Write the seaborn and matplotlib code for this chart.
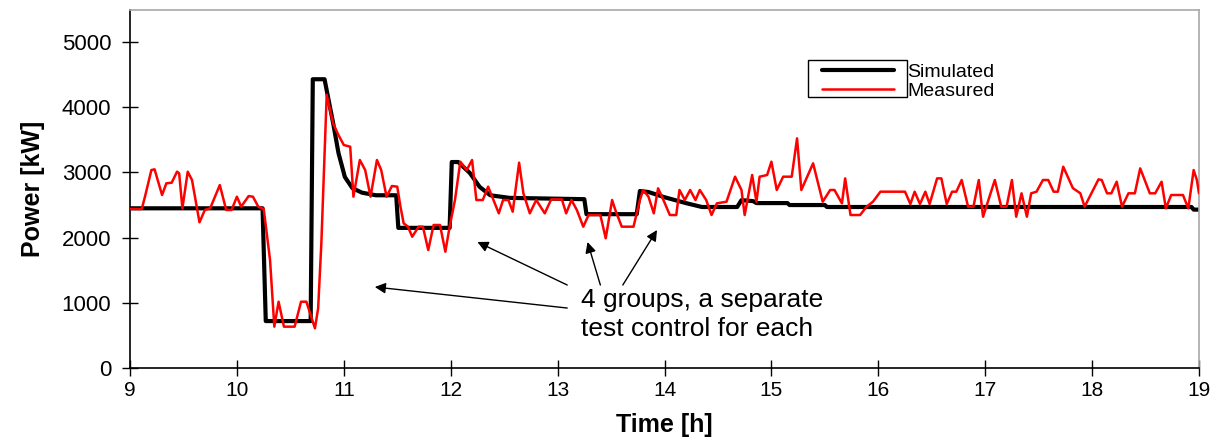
import matplotlib
matplotlib.use("Agg")
import matplotlib.pyplot as plt
from matplotlib.patches import Rectangle
import seaborn as sns
import pandas as pd

# ---------------- data ----------------
sim_time = [9.00, 10.24, 10.27, 10.69, 10.71, 10.82, 10.84, 10.90, 10.95, 11.01,
            11.08, 11.17, 11.30, 11.49, 11.51, 11.99, 12.01, 12.07, 12.18, 12.27,
            12.37, 12.55, 13.25, 13.27, 13.74, 13.77, 13.85, 14.00, 14.20, 14.35,
            14.68, 14.72, 14.83, 14.86, 15.15, 15.17, 15.50, 15.52, 18.93, 18.95, 19.00]
sim_power = [2450, 2450, 720, 720, 4430, 4430, 4260, 3760, 3300, 2930,
             2760, 2690, 2650, 2650, 2150, 2150, 3160, 3160, 2990, 2780,
             2650, 2610, 2590, 2360, 2360, 2715, 2700, 2620, 2530, 2470,
             2470, 2575, 2560, 2530, 2530, 2500, 2500, 2470, 2470, 2430, 2430]

meas_time = [9.00, 9.11, 9.14, 9.20, 9.23, 9.30, 9.34, 9.39, 9.44, 9.46,
             9.49, 9.54, 9.58, 9.65, 9.70, 9.75, 9.84, 9.90, 9.95, 10.00,
             10.04, 10.11, 10.15, 10.20, 10.25, 10.26, 10.31, 10.35, 10.39, 10.44,
             10.54, 10.60, 10.65, 10.73, 10.76, 10.79, 10.84, 10.90, 10.95, 11.00,
             11.06, 11.09, 11.15, 11.20, 11.25, 11.31, 11.35, 11.40, 11.45, 11.50,
             11.53, 11.56, 11.60, 11.64, 11.70, 11.74, 11.79, 11.84, 11.90, 11.95,
             11.99, 12.04, 12.09, 12.15, 12.20, 12.24, 12.30, 12.35, 12.40, 12.45,
             12.49, 12.54, 12.58, 12.64, 12.68, 12.74, 12.80, 12.88, 12.94, 13.04,
             13.08, 13.13, 13.18, 13.24, 13.29, 13.40, 13.45, 13.51, 13.54, 13.60,
             13.71, 13.77, 13.80, 13.85, 13.90, 13.94, 13.99, 14.05, 14.11, 14.14,
             14.19, 14.24, 14.29, 14.33, 14.39, 14.44, 14.49, 14.58, 14.66, 14.72,
             14.75, 14.82, 14.86, 14.89, 14.96, 15.00, 15.05, 15.11, 15.19, 15.24,
             15.28, 15.39, 15.48, 15.55, 15.59, 15.66, 15.69, 15.74, 15.83, 15.89,
             15.95, 16.02, 16.25, 16.30, 16.34, 16.39, 16.44, 16.48, 16.55, 16.59,
             16.64, 16.69, 16.73, 16.78, 16.84, 16.89, 16.94, 16.98, 17.09, 17.15,
             17.20, 17.25, 17.29, 17.34, 17.39, 17.43, 17.48, 17.54, 17.59, 17.64,
             17.68, 17.73, 17.82, 17.89, 17.93, 18.06, 18.09, 18.14, 18.18, 18.23,
             18.28, 18.34, 18.40, 18.45, 18.54, 18.59, 18.65, 18.69, 18.74, 18.85,
             18.90, 18.95, 18.98, 19.00]
meas_power = [2440, 2440, 2628, 3037, 3048, 2654, 2833, 2843, 3012, 2986,
              2450, 3012, 2884, 2235, 2424, 2450, 2807, 2424, 2424, 2628,
              2475, 2638, 2628, 2475, 2440, 2321, 1657, 634, 1017, 634,
              634, 1017, 1017, 609, 916, 1913, 4190, 3753, 3574, 3421,
              3395, 2628, 3191, 3037, 2628, 3191, 3037, 2628, 2792, 2782,
              2475, 2219, 2168, 2014, 2168, 2168, 1810, 2194, 2194, 1784,
              2168, 2577, 3165, 3037, 3191, 2577, 2577, 2782, 2577, 2373,
              2577, 2577, 2398, 3150, 2680, 2373, 2577, 2373, 2587, 2587,
              2373, 2577, 2424, 2168, 2347, 2347, 1990, 2577, 2424, 2168,
              2168, 2577, 2731, 2628, 2373, 2757, 2577, 2347, 2347, 2731,
              2577, 2731, 2577, 2731, 2577, 2347, 2526, 2551, 2935, 2731,
              2347, 2961, 2551, 2935, 2961, 3165, 2731, 2935, 2935, 3523,
              2731, 3140, 2551, 2731, 2731, 2526, 2909, 2347, 2347, 2475,
              2551, 2705, 2705, 2516, 2705, 2516, 2705, 2516, 2909, 2909,
              2516, 2705, 2705, 2884, 2475, 2475, 2884, 2321, 2884, 2475,
              2475, 2884, 2321, 2680, 2321, 2680, 2705, 2884, 2884, 2705,
              2705, 3088, 2760, 2680, 2475, 2894, 2884, 2680, 2680, 2858,
              2475, 2680, 2680, 3063, 2680, 2680, 2858, 2450, 2654, 2654,
              2450, 3037, 2884, 2680]

x_ticks = [9, 10, 11, 12, 13, 14, 15, 16, 17, 18, 19]
y_ticks = [0, 1000, 2000, 3000, 4000, 5000]
series_names = ["Simulated", "Measured"]
annotation_text = "4 groups, a separate\ntest control for each"
# arrows: (tail time, tail power) -> (head time, head power)
arrow_tails = [(13.09, 920), (13.09, 1273), (13.40, 1273), (13.61, 1273)]
arrow_heads = [(11.29, 1243), (12.25, 1933), (13.28, 1933), (13.93, 2117)]

# ---------------- plot ----------------
sns.set_theme(style="white")
plt.rcParams["font.family"] = ["Liberation Sans", "DejaVu Sans"]
plt.rcParams["text.color"] = "black"
plt.rcParams["axes.labelcolor"] = "black"
plt.rcParams["xtick.color"] = "black"
plt.rcParams["ytick.color"] = "black"

fig = plt.figure(figsize=(12.24, 4.45), dpi=100)
ax = fig.add_axes([130 / 1224, 1 - 368 / 445, 1069 / 1224, 358.5 / 445])

sim_df = pd.DataFrame({"Time": sim_time, "Power": sim_power})
meas_df = pd.DataFrame({"Time": meas_time, "Power": meas_power})

sns.lineplot(data=sim_df, x="Time", y="Power", ax=ax, color="black", lw=3.0,
             estimator=None, sort=False, label=series_names[0], zorder=2)
sns.lineplot(data=meas_df, x="Time", y="Power", ax=ax, color="#ff0000", lw=1.8,
             estimator=None, sort=False, label=series_names[1], zorder=3)

ax.set_xlim(9, 19)
ax.set_ylim(0, 5500)
ax.set_xticks(x_ticks)
ax.set_yticks(y_ticks)
ax.set_xticklabels([str(t) for t in x_ticks])
ax.set_yticklabels([str(t) for t in y_ticks])

ax.tick_params(axis="both", direction="inout", length=11, width=1, color="black",
               labelcolor="black")
ax.tick_params(axis="y", labelsize=16, pad=8, left=True)
ax.tick_params(axis="x", labelsize=15, pad=4, bottom=True)

for side in ["left", "bottom"]:
    ax.spines[side].set_color("black")
    ax.spines[side].set_linewidth(1.2)
for side in ["top", "right"]:
    ax.spines[side].set_color("#a8a8a8")
    ax.spines[side].set_linewidth(1.2)

ax.set_xlabel("Time [h]", fontsize=18, fontweight="bold", labelpad=9, color="black")
ax.set_ylabel("Power [kW]", fontsize=18, fontweight="bold", labelpad=12, color="black")

# legend: frame only around the handles, text outside
leg = ax.legend(loc="upper left", bbox_to_anchor=((822 - 130) / 1069, (368 - 63) / 358.5),
                frameon=False, fontsize=14, handlelength=3.7, handletextpad=0.7,
                borderpad=0, borderaxespad=0, labelspacing=0.08)
for txt in leg.get_texts():
    txt.set_color("black")
ax.add_patch(Rectangle((0.634, 0.756), 0.093, 0.103, transform=ax.transAxes,
                       fill=False, edgecolor="black", lw=1.0, zorder=5))

# annotation arrows and text
for (tx, ty), (hx, hy) in zip(arrow_tails, arrow_heads):
    ax.annotate("", xy=(hx, hy), xytext=(tx, ty),
                arrowprops=dict(arrowstyle="-|>", color="black", lw=1.0,
                                mutation_scale=16, shrinkA=0, shrinkB=0))
ax.text(13.22, 1230, annotation_text, fontsize=19, ha="left", va="top",
        linespacing=1.25, color="black")

fig.savefig("out.png", dpi=100, facecolor="white")
